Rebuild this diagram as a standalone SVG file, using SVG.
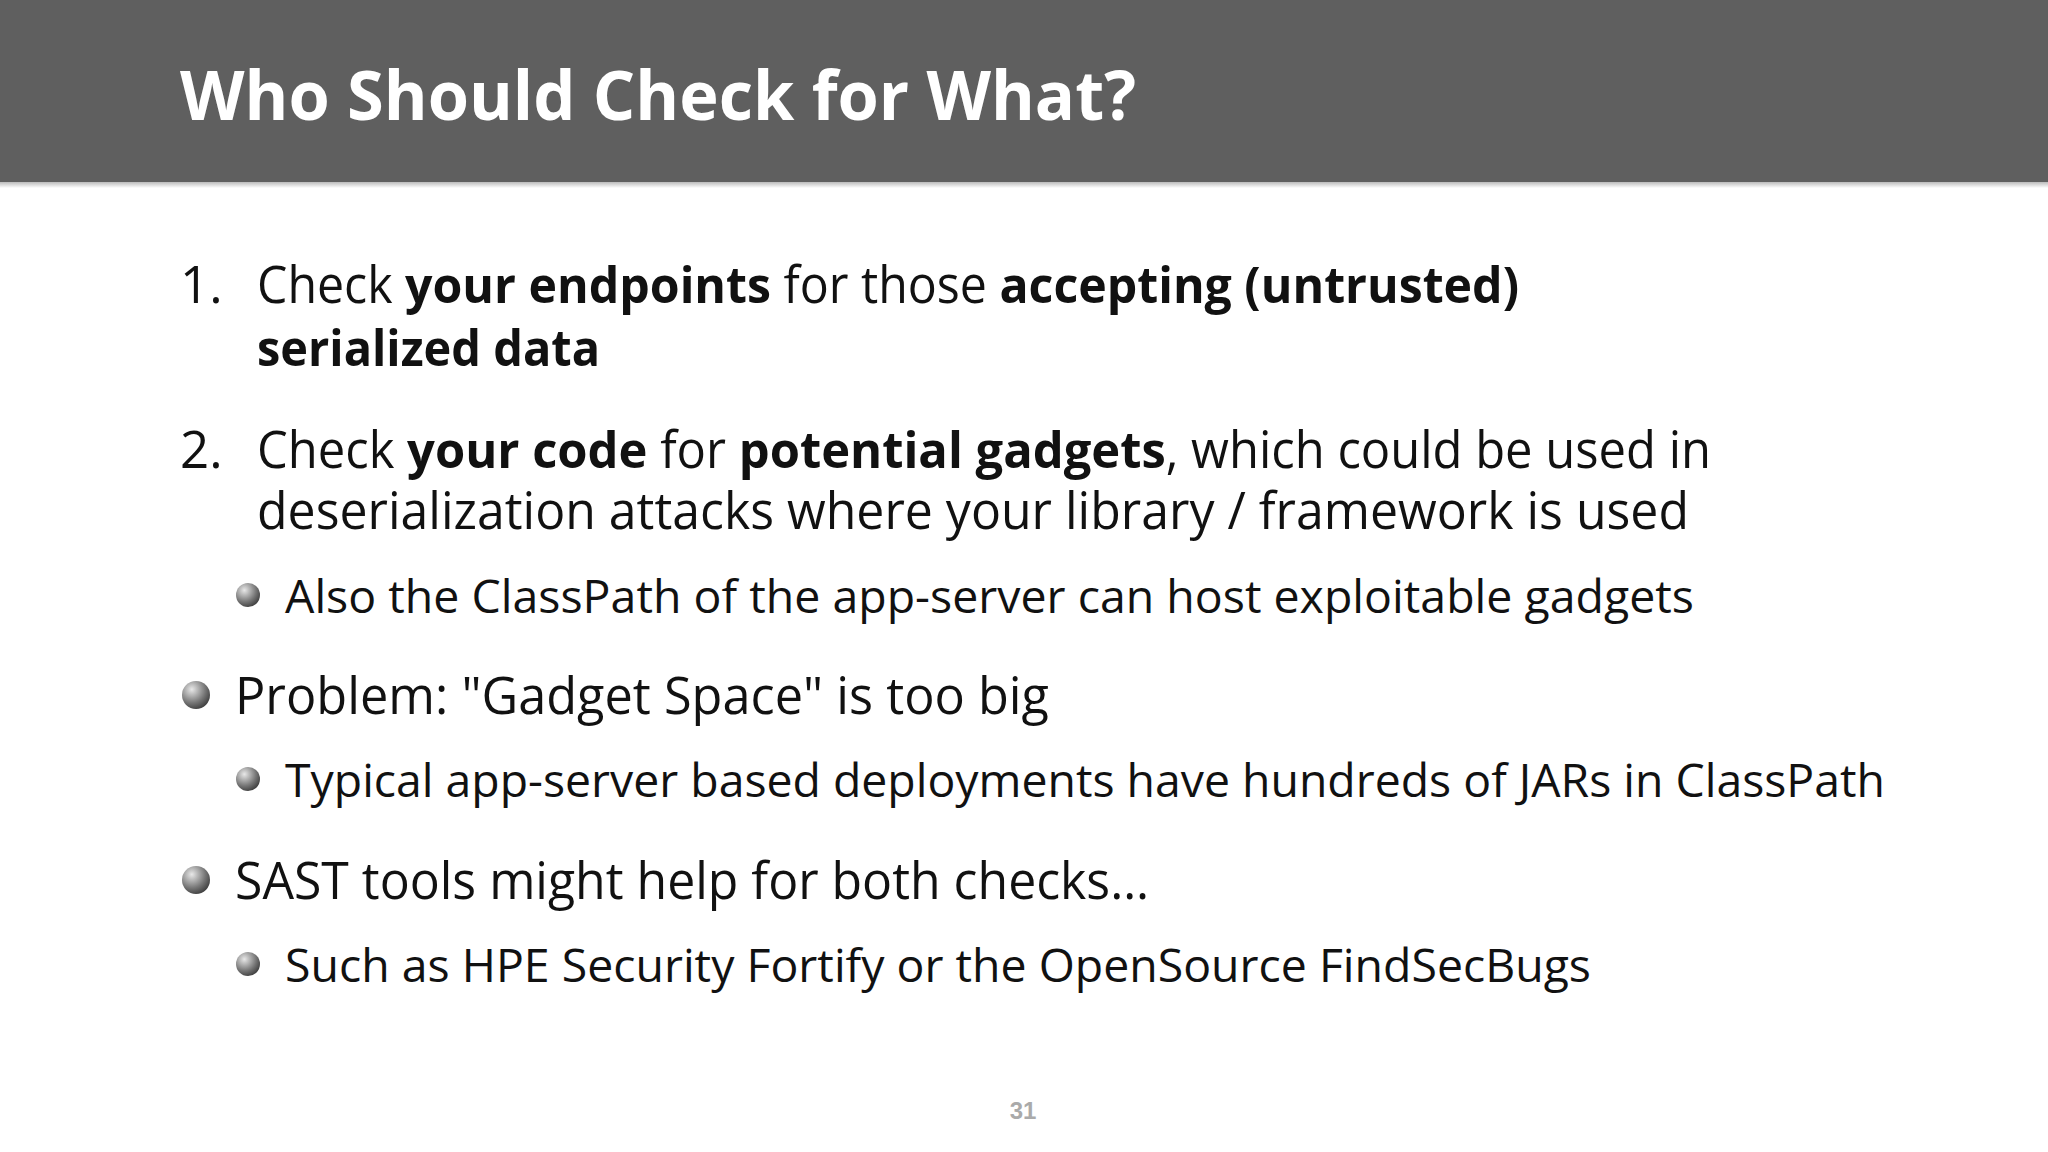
<svg xmlns="http://www.w3.org/2000/svg" width="2048" height="1152" viewBox="0 0 2048 1152">
<style>
.t{font-family:"Open Sans","Liberation Sans",sans-serif;fill:#111}
.b{font-weight:bold}
.l1{font-size:51px}
.l2{font-size:45px}
</style>
<defs>
<radialGradient id="g" cx="0.35" cy="0.3" r="0.8">
<stop offset="0" stop-color="#e8e8e8"/><stop offset="0.6" stop-color="#777"/><stop offset="1" stop-color="#333"/>
</radialGradient>
<linearGradient id="sh" x1="0" y1="0" x2="0" y2="1"><stop offset="0" stop-color="#bbb"/><stop offset="1" stop-color="#fff"/></linearGradient>
</defs>
<rect width="2048" height="1152" fill="#fff"/>
<g id="header">
<rect width="2048" height="182" fill="#5f5f5f"/>
<rect y="182" width="2048" height="6" fill="url(#sh)"/>
<text x="180" y="120" font-family="Open Sans,Liberation Sans,sans-serif" font-weight="bold" font-size="68" fill="#fff" textLength="956" lengthAdjust="spacingAndGlyphs">Who Should Check for What?</text>
</g>
<g id="item1">
<text class="t l1" x="180" y="303">1.</text>
<text class="t l1" x="257" y="303" textLength="1262" lengthAdjust="spacingAndGlyphs">Check <tspan class="b">your endpoints</tspan> for those <tspan class="b">accepting (untrusted)</tspan></text>
<text class="t l1 b" x="257" y="366" textLength="343" lengthAdjust="spacingAndGlyphs">serialized data</text>
</g>
<g id="item2">
<text class="t l1" x="180" y="468">2.</text>
<text class="t l1" x="257" y="468" textLength="1454" lengthAdjust="spacingAndGlyphs">Check <tspan class="b">your code</tspan> for <tspan class="b">potential gadgets</tspan>, which could be used in</text>
<text class="t l1" x="257" y="529" textLength="1432" lengthAdjust="spacingAndGlyphs">deserialization attacks where your library / framework is used</text>
<circle cx="248" cy="595" r="12" fill="url(#g)"/>
<text class="t l2" x="285" y="613" textLength="1409" lengthAdjust="spacingAndGlyphs">Also the ClassPath of the app-server can host exploitable gadgets</text>
</g>
<g id="problem">
<circle cx="196" cy="695" r="14" fill="url(#g)"/>
<text class="t l1" x="235" y="714" textLength="814" lengthAdjust="spacingAndGlyphs">Problem: "Gadget Space" is too big</text>
<circle cx="248" cy="779" r="12" fill="url(#g)"/>
<text class="t l2" x="285" y="797" textLength="1600" lengthAdjust="spacingAndGlyphs">Typical app-server based deployments have hundreds of JARs in ClassPath</text>
</g>
<g id="sast">
<circle cx="196" cy="880" r="14" fill="url(#g)"/>
<text class="t l1" x="235" y="899" textLength="914" lengthAdjust="spacingAndGlyphs">SAST tools might help for both checks…</text>
<circle cx="248" cy="964" r="12" fill="url(#g)"/>
<text class="t l2" x="285" y="982" textLength="1306" lengthAdjust="spacingAndGlyphs">Such as HPE Security Fortify or the OpenSource FindSecBugs</text>
</g>
<g id="page">
<text x="1023" y="1119" text-anchor="middle" font-family="Liberation Sans,sans-serif" font-weight="bold" font-size="24" fill="#aaa">31</text>
</g>
</svg>
